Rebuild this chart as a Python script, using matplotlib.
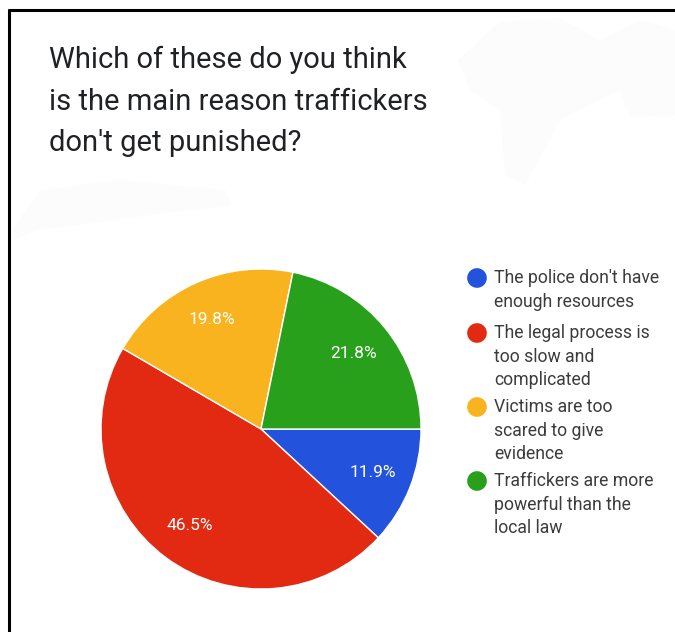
import matplotlib.pyplot as plt
from matplotlib.patches import Polygon

title_lines = [
    "Which of these do you think",
    "is the main reason traffickers",
    "don't get punished?",
]
labels = [
    "The police don't have\nenough resources",
    "The legal process is\ntoo slow and\ncomplicated",
    "Victims are too\nscared to give\nevidence",
    "Traffickers are more\npowerful than the\nlocal law",
]
shares = [11.9, 46.5, 19.8, 21.8]
colors = ["#2352dc", "#e22a12", "#f8b31e", "#28a01c"]

W, H = 675, 632
fig = plt.figure(figsize=(W / 100, H / 100), dpi=100)

# overlay in pixel coordinates for title, legend and frame
over = fig.add_axes([0, 0, 1, 1], zorder=0)
over.set_xlim(0, W)
over.set_ylim(H, 0)
over.axis("off")

# faint background smudges
over.add_patch(Polygon([(458, 60), (500, 22), (560, 18), (600, 40), (640, 20),
                        (675, 30), (675, 115), (630, 118), (620, 90), (560, 120),
                        (525, 185), (505, 175), (500, 110), (470, 90)],
                       closed=True, color="#fcfcfc", lw=0))
over.add_patch(Polygon([(12, 230), (40, 190), (120, 180), (225, 190), (232, 205),
                        (150, 215), (40, 230), (12, 240)],
                       closed=True, color="#fcfcfc", lw=0))

# frame: top and left edges
over.plot([8, W], [10, 10], color="black", lw=2.2, solid_capstyle="butt")
over.plot([9, 9], [9, H], color="black", lw=2.2, solid_capstyle="butt")

for i, line in enumerate(title_lines):
    over.text(49, 68 + i * 41.5, line, fontsize=21, family="Roboto",
              color="#202124", va="baseline", ha="left")

legend_y = [278, 333, 407, 481]
for lab, col, y in zip(labels, colors, legend_y):
    over.scatter([477], [y], s=200, color=col, edgecolor="none")
    for j, part in enumerate(lab.split("\n")):
        over.text(494, y + j * 23.6, part, fontsize=12.7, family="Roboto",
                  color="#3c3c3c", va="center", ha="left")

# pie
cx, cy, r = 261, 429, 160
ax = fig.add_axes([(cx - r) / W, (H - cy - r) / H, 2 * r / W, 2 * r / H], zorder=1)
wedges, texts, autotexts = ax.pie(
    shares,
    colors=colors,
    startangle=0,
    counterclock=False,
    autopct="%.1f%%",
    pctdistance=0.75,
    wedgeprops=dict(edgecolor="white", linewidth=1),
    textprops=dict(color="white", fontsize=12.5, family="Roboto"),
)
ax.set_xlim(-1, 1)
ax.set_ylim(-1, 1)
ax.set_aspect("equal")
ax.axis("off")

fig.savefig("out.png", dpi=100, facecolor="white")
